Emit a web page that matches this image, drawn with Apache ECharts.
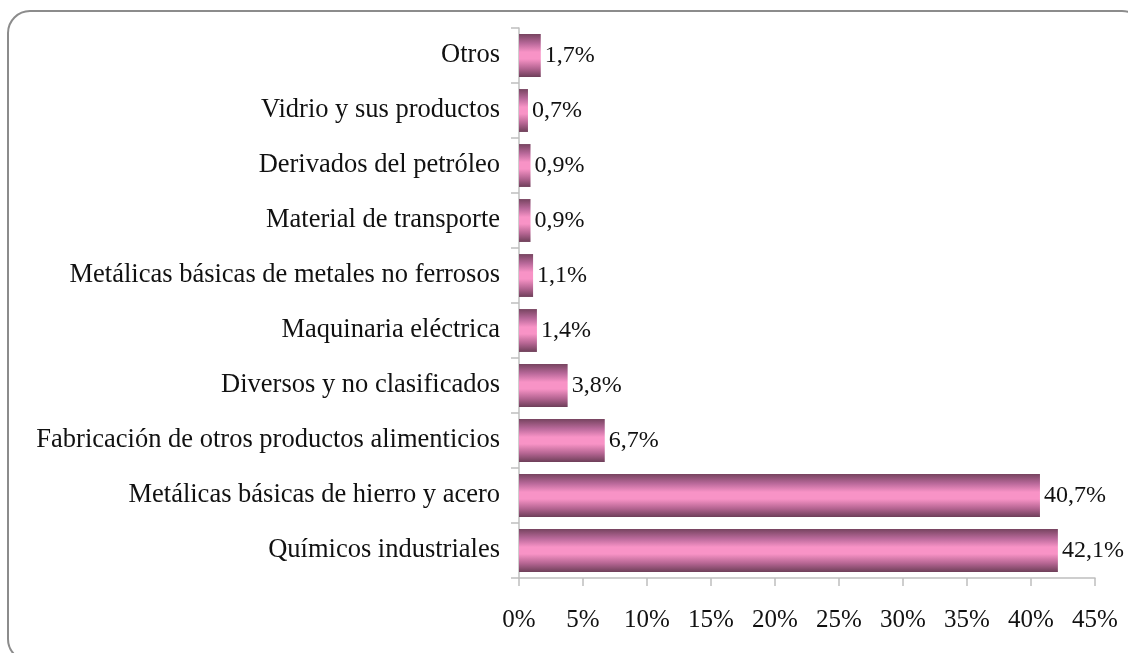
<!DOCTYPE html>
<html>
<head>
<meta charset="utf-8">
<script src="https://cdn.jsdelivr.net/npm/echarts@6/dist/echarts.min.js"></script>
<style>
  html, body { margin: 0; padding: 0; background: #fff; }
  #chart { width: 1128px; height: 653px; }
</style>
</head>
<body>
<div id="chart"></div>
<script>
// bottom to top, as the category axis draws them
const categories = [
  'Químicos industriales',
  'Metálicas básicas de hierro y acero',
  'Fabricación de otros productos alimenticios',
  'Diversos y no clasificados',
  'Maquinaria eléctrica',
  'Metálicas básicas de metales no ferrosos',
  'Material de transporte',
  'Derivados del petróleo',
  'Vidrio y sus productos',
  'Otros'
]
const shares = [42.1, 40.7, 6.7, 3.8, 1.4, 1.1, 0.9, 0.9, 0.7, 1.7]
const ticks = [0, 5, 10, 15, 20, 25, 30, 35, 40, 45]

const font = '"Liberation Serif", "DejaVu Serif", serif'
const chart = echarts.init(document.getElementById('chart'))

chart.setOption({
  animation: false,
  textStyle: { fontFamily: font },
  graphic: [
    {
      type: 'rect',
      shape: { x: 8, y: 11, width: 1136, height: 650, r: 22 },
      style: { fill: 'none', stroke: '#8c8c8c', lineWidth: 2 },
      silent: true
    }
  ],
  grid: { left: 519, right: 33, top: 28, bottom: 75 },
  xAxis: {
    type: 'value',
    min: ticks[0],
    max: ticks[ticks.length - 1],
    interval: 5,
    splitLine: { show: false },
    axisLine: { show: true, lineStyle: { color: '#bfbfbf', width: 1.5 } },
    axisTick: { show: true, length: 8, lineStyle: { color: '#bfbfbf', width: 1.5 } },
    axisLabel: {
      margin: 30,
      color: '#111',
      fontSize: 25,
      fontFamily: font,
      formatter: (v) => `${v}%`
    }
  },
  yAxis: {
    type: 'category',
    data: categories,
    axisLine: { show: true, lineStyle: { color: '#bfbfbf', width: 1.5 } },
    axisTick: { show: true, length: 8, lineStyle: { color: '#bfbfbf', width: 1.5 } },
    axisLabel: {
      margin: 19,
      color: '#111',
      fontSize: 26.5,
      fontFamily: font
    }
  },
  series: [
    {
      type: 'bar',
      data: shares,
      barCategoryGap: '22%',
      itemStyle: {
        color: new echarts.graphic.LinearGradient(0, 0, 0, 1, [
          { offset: 0, color: '#774460' },
          { offset: 0.22, color: '#b9699a' },
          { offset: 0.42, color: '#f893c6' },
          { offset: 0.58, color: '#f893c6' },
          { offset: 0.8, color: '#b56592' },
          { offset: 1, color: '#6e3f59' }
        ])
      },
      label: {
        show: true,
        position: 'right',
        distance: 4,
        color: '#111',
        fontSize: 24,
        fontFamily: font,
        formatter: ({ value }) => `${String(value).replace('.', ',')}%`
      }
    }
  ]
})
</script>
</body>
</html>
